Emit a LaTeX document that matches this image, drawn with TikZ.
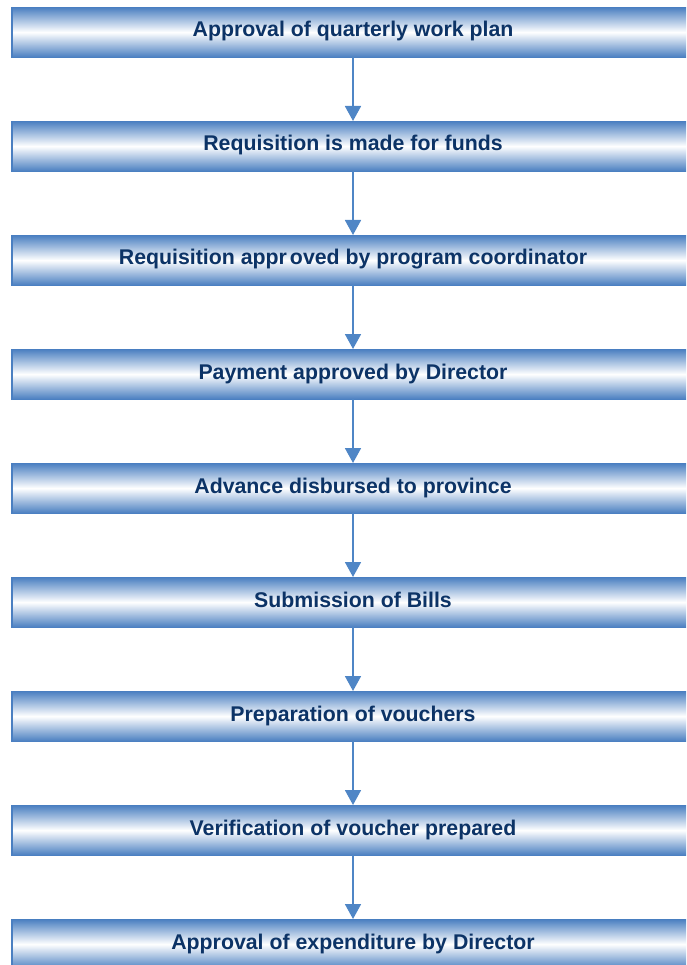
\documentclass[tikz,border=0pt]{standalone}
\usepackage{fontspec}
\setmainfont{Liberation Sans}
\usetikzlibrary{arrows.meta}
\definecolor{boxblue}{HTML}{4A7FC1}
\definecolor{arrowblue}{HTML}{4F86C6}
\definecolor{textnavy}{HTML}{0C3366}
\tikzset{
  stepbox/.style={rectangle, minimum width=676pt, minimum height=50pt,
    anchor=north west, inner sep=0pt,
    top color=boxblue, bottom color=boxblue, middle color=white,
    text=textnavy, font=\fontsize{21.3pt}{24pt}\selectfont\bfseries},
  flow/.style={draw=arrowblue, line width=1.8pt,
    -{Triangle[width=16pt,length=15pt]}},
}
\begin{document}
\begin{tikzpicture}[x=1pt,y=-1pt]
  \useasboundingbox (0,0) rectangle (686,965);
  \begin{scope}
    \clip (0,0) rectangle (686,965);
    \foreach \i/\lbl in {
      0/{Approval of quarterly work plan},
      1/{Requisition is made for funds},
      2/{Requisition appr\kern3pt oved by program coordinator},
      3/{Payment approved by Director},
      4/{Advance disbursed to province},
      5/{Submission of Bills},
      6/{Preparation of vouchers},
      7/{Verification of voucher prepared},
      8/{Approval of expenditure by Director}} {
      \node[stepbox] (b\i) at (11,{7+114*\i}) {};
      \draw[boxblue, line width=2pt] ([xshift=1pt]b\i.north west) -- ([xshift=1pt]b\i.south west);
      \node[text=textnavy, font=\fontsize{21.3pt}{24pt}\selectfont\bfseries, inner sep=0pt, anchor=base]
        (t\i) at (353,{7+114*\i+30}) {\lbl};
    }
    \foreach \i [evaluate=\i as \j using int(\i+1)] in {0,...,7} {
      \draw[flow] (b\i.south -| 353,0) -- (b\j.north -| 353,0);
    }
  \end{scope}
\end{tikzpicture}
\end{document}
